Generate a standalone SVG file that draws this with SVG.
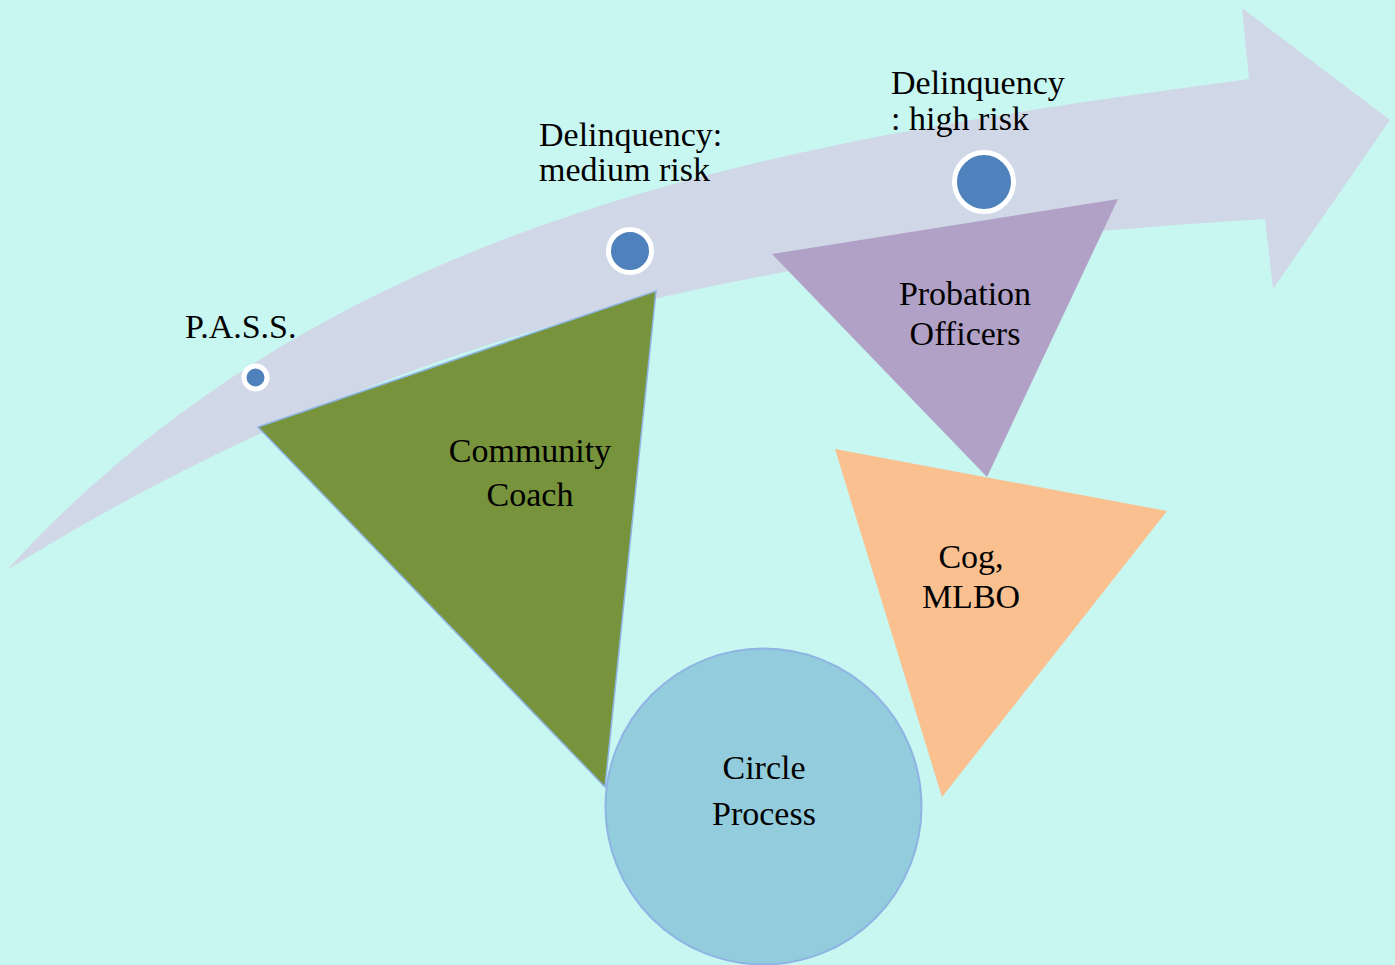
<svg xmlns="http://www.w3.org/2000/svg" width="1395" height="965" viewBox="0 0 1395 965">
<style>
text{font-family:"Liberation Serif","Times New Roman",serif;font-size:34px;fill:#000}
.dot{fill:#4F81BD;stroke:#fff}
.tri{stroke:#8EB4E3;stroke-width:1.5}
</style>
<rect width="1395" height="965" fill="#C8F6F0"/>
<g id="arrow">
<path d="M7,570 C338,207 799,140 1249,79 L1242,8 L1390,120 L1273,289 L1265,219 C765,249 408,322 7,570 Z" fill="#D0D8E8"/>
</g>
<g id="community-coach">
<polygon class="tri" points="258,427 656,291 605,787" fill="#77933C"/>
<text x="530" y="462" text-anchor="middle">Community</text>
<text x="530" y="506" text-anchor="middle">Coach</text>
</g>
<g id="probation-officers">
<polygon points="772,254 1118,199 987,477" fill="#B2A1C7"/>
<text x="965" y="305" text-anchor="middle">Probation</text>
<text x="965" y="345" text-anchor="middle">Officers</text>
</g>
<g id="cog-mlbo">
<polygon points="835,449 1167,511 942,797" fill="#FAC090"/>
<text x="971" y="568" text-anchor="middle">Cog,</text>
<text x="971" y="608" text-anchor="middle">MLBO</text>
</g>
<g id="circle-process">
<circle cx="763.5" cy="806.5" r="158" fill="#93CDDD" stroke="#8EB4E3" stroke-width="2"/>
<text x="764" y="779" text-anchor="middle">Circle</text>
<text x="764" y="825" text-anchor="middle">Process</text>
</g>
<g id="pass">
<circle class="dot" cx="255.5" cy="377.5" r="11.5" stroke-width="5"/>
<text x="185" y="338">P.A.S.S.</text>
</g>
<g id="medium-risk">
<circle class="dot" cx="630" cy="251" r="21.5" stroke-width="5"/>
<text x="539" y="146">Delinquency:</text>
<text x="539" y="181">medium risk</text>
</g>
<g id="high-risk">
<circle class="dot" cx="984" cy="182" r="29.5" stroke-width="5"/>
<text x="891" y="94">Delinquency</text>
<text x="891" y="130">: high risk</text>
</g>
<g id="connectors"></g>
</svg>
